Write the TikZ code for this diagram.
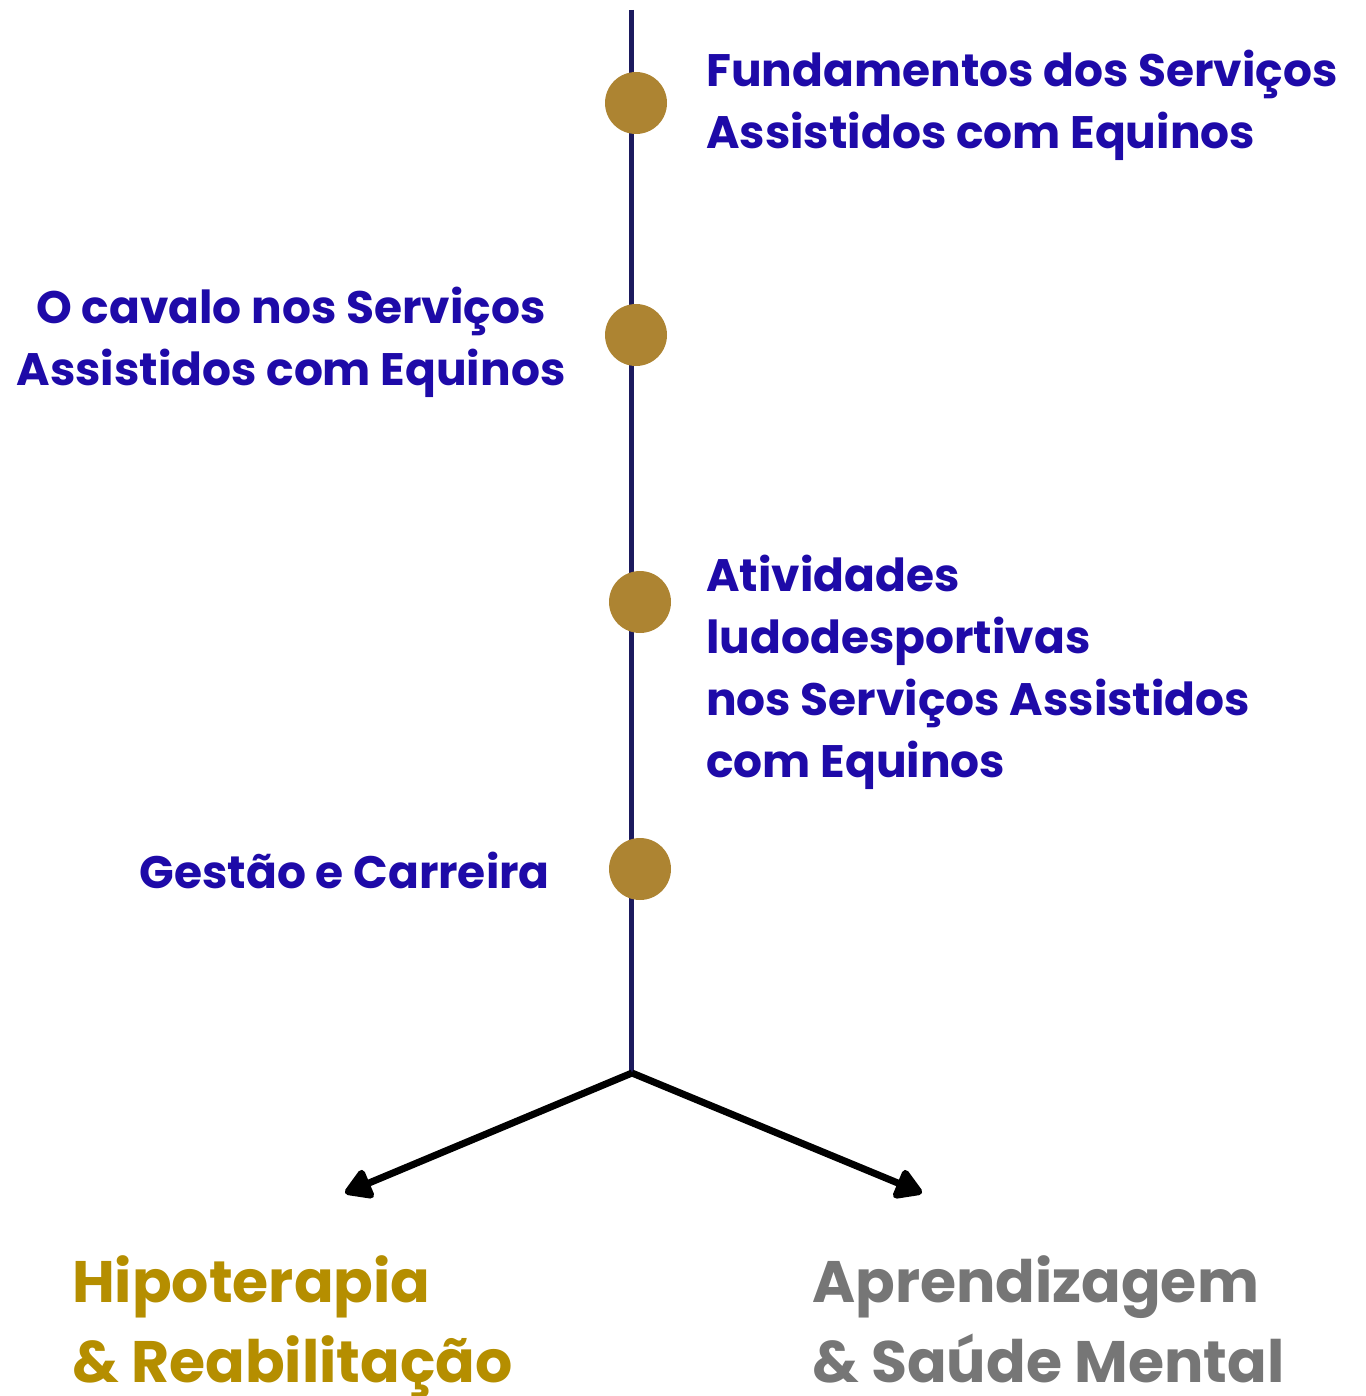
\documentclass[tikz,border=0pt]{standalone}
\usepackage{fontspec}
\setmainfont{Poppins}
\usetikzlibrary{arrows.meta}
\definecolor{navy}{HTML}{1C1A5E}
\definecolor{dotc}{HTML}{AD8432}
\definecolor{bluet}{HTML}{1E0AA8}
\definecolor{goldt}{HTML}{B58E00}
\definecolor{grayt}{HTML}{767676}
\begin{document}
\begin{tikzpicture}[x=1pt,y=-1pt,
  dot/.style={circle,fill=dotc,minimum size=62pt,inner sep=0pt},
  lbl/.style={text=bluet,font=\fontsize{45.5}{62}\selectfont\bfseries,inner sep=0pt},
  big/.style={font=\fontsize{58.5}{80}\selectfont\bfseries,inner sep=0pt,align=left},
  arr/.style={line width=7pt,-{Triangle[length=30pt,width=34pt,round]}}]
\useasboundingbox (0,0) rectangle (1365,1396);
\coordinate (top) at (631,10);
\coordinate (fork) at (632,1073);
\draw[navy,line width=5pt] (top) -- (631,1073);
\node[dot] (d1) at (636,103) {};
\node[dot] (d2) at (636,335) {};
\node[dot] (d3) at (640,602) {};
\node[dot] (d4) at (640,869) {};
\node[lbl,anchor=base west,align=left] (t1) at (706,149) {Fundamentos dos Serviços\\Assistidos com Equinos};
\node[lbl,anchor=base,align=center] (t2) at (291,385) {O cavalo nos Serviços\\Assistidos com Equinos};
\node[lbl,anchor=base west,align=left] (t3) at (706,777) {Atividades\\ludodesportivas\\nos Serviços Assistidos\\com Equinos};
\node[lbl,anchor=base east] (t4) at (550,888) {Gestão e Carreira};
\coordinate (l) at (345,1193);
\coordinate (r) at (922,1193);
\draw[arr] (fork) -- (l);
\draw[arr] (fork) -- (r);
\node[big,text=goldt,anchor=base west] (h) at (72,1382) {Hipoterapia\\\& Reabilitação};
\node[big,text=grayt,anchor=base west] (a) at (812,1382) {Aprendizagem\\\& Saúde Mental};
\end{tikzpicture}
\end{document}
